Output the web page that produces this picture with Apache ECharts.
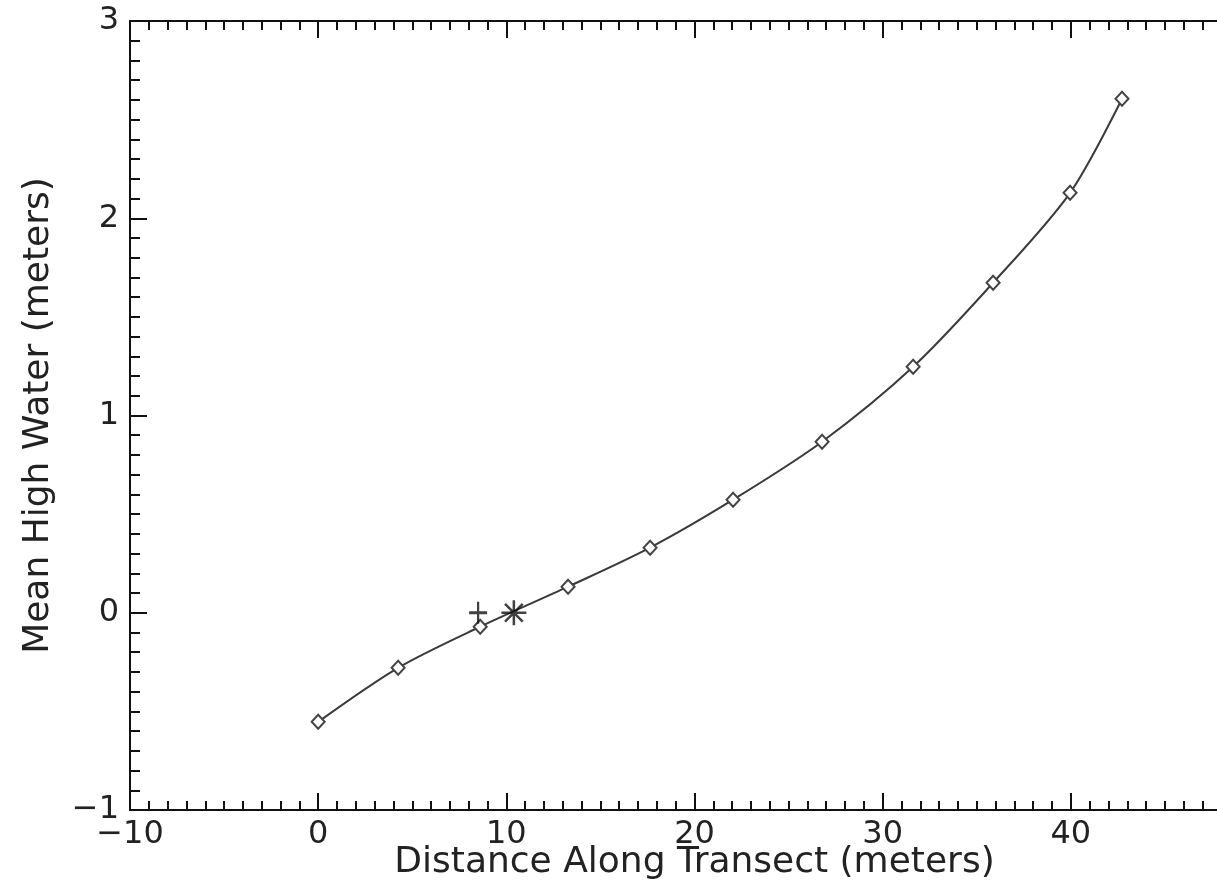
<!DOCTYPE html>
<html>
<head>
<meta charset="utf-8">
<script src="https://cdn.jsdelivr.net/npm/echarts@6/dist/echarts.min.js"></script>
<style>
html,body{margin:0;padding:0;background:#fff;overflow:hidden;width:1217px;height:883px;}
#chart{width:1262px;height:883px;}
</style>
</head>
<body>
<div id="chart"></div>
<script>
// Data
const distance = [0, 4.25, 8.61, 13.28, 17.64, 22.05, 26.78, 31.62, 35.87, 39.96, 42.72];
const meanHighWater = [-0.553, -0.279, -0.071, 0.132, 0.330, 0.573, 0.867, 1.247, 1.673, 2.129, 2.606];
const plusPoint = [8.5, 0];
const asteriskPoint = [10.4, 0];
const xTicks = [-10, 0, 10, 20, 30, 40, 50];
const yTicks = [-1, 0, 1, 2, 3];

const FONT = 'DejaVu Sans';
const TXT = '#222';
const FS = 32;
const NAME_FS = 36;
const fmt = v => String(v).replace('-', '\u2212');

const axisCommon = {
  axisLine: {show: true, onZero: false, lineStyle: {color: '#111', width: 2}},
  splitLine: {show: false},
  minorSplitLine: {show: false}
};
const majorTick = {show: true, inside: true, length: 17, lineStyle: {color: '#111', width: 2}};

const chart = echarts.init(document.getElementById('chart'), null, {renderer: 'canvas'});
chart.setOption({
  backgroundColor: '#fff',
  animation: false,
  grid: {left: 130, top: 21, right: 3, bottom: 73, containLabel: false, outerBoundsMode: 'none'},
  xAxis: [
    Object.assign({
      type: 'value', position: 'bottom', min: xTicks[0], max: xTicks[xTicks.length - 1], interval: 10,
      name: 'Distance Along Transect (meters)', nameLocation: 'middle', nameGap: 35,
      nameMoveOverlap: false,
      nameTextStyle: {fontFamily: FONT, fontSize: NAME_FS, color: TXT},
      axisTick: majorTick,
      minorTick: {show: true, splitNumber: 10, length: 9, lineStyle: {color: '#111', width: 2}},
      axisLabel: {show: true, margin: 9, fontFamily: FONT, fontSize: FS, color: TXT,
        formatter: v => (v > 45 ? '' : fmt(v))}
    }, axisCommon),
    Object.assign({
      type: 'value', position: 'top', min: xTicks[0], max: xTicks[xTicks.length - 1], interval: 10,
      axisTick: majorTick,
      minorTick: {show: true, splitNumber: 10, length: 9, lineStyle: {color: '#111', width: 2}},
      axisLabel: {show: false}
    }, axisCommon)
  ],
  yAxis: [
    Object.assign({
      type: 'value', position: 'left', min: yTicks[0], max: yTicks[yTicks.length - 1], interval: 1,
      name: 'Mean High Water (meters)', nameLocation: 'middle', nameGap: 73,
      nameMoveOverlap: false,
      nameTextStyle: {fontFamily: FONT, fontSize: NAME_FS, color: TXT},
      axisTick: majorTick,
      minorTick: {show: true, splitNumber: 10, length: 10, lineStyle: {color: '#111', width: 2}},
      axisLabel: {show: true, margin: 11, fontFamily: FONT, fontSize: FS, color: TXT, formatter: fmt}
    }, axisCommon),
    Object.assign({
      type: 'value', position: 'right', min: yTicks[0], max: yTicks[yTicks.length - 1], interval: 1,
      axisTick: majorTick,
      minorTick: {show: true, splitNumber: 10, length: 10, lineStyle: {color: '#111', width: 2}},
      axisLabel: {show: false}
    }, axisCommon)
  ],
  series: [
    {
      type: 'line', xAxisIndex: 0, yAxisIndex: 0,
      data: distance.map((d, i) => [d, meanHighWater[i]]),
      smooth: 0.3,
      lineStyle: {color: '#3a3a3a', width: 2},
      symbol: 'diamond', symbolSize: [13, 14], showSymbol: true,
      itemStyle: {color: '#fff', borderColor: '#444', borderWidth: 2},
      z: 3
    },
    {
      type: 'scatter', xAxisIndex: 0, yAxisIndex: 0,
      data: [plusPoint],
      symbol: 'path://M0,-10L0,10M-10,0L10,0', symbolSize: [18, 22],
      itemStyle: {color: 'none', borderColor: '#111', borderWidth: 2.5},
      z: 4
    },
    {
      type: 'scatter', xAxisIndex: 0, yAxisIndex: 0,
      data: [asteriskPoint],
      symbol: 'path://M0,-10L0,10M-10,0L10,0M-7.07,-7.07L7.07,7.07M-7.07,7.07L7.07,-7.07', symbolSize: 25,
      itemStyle: {color: 'none', borderColor: '#111', borderWidth: 2.5},
      z: 4
    }
  ]
});
</script>
</body>
</html>
